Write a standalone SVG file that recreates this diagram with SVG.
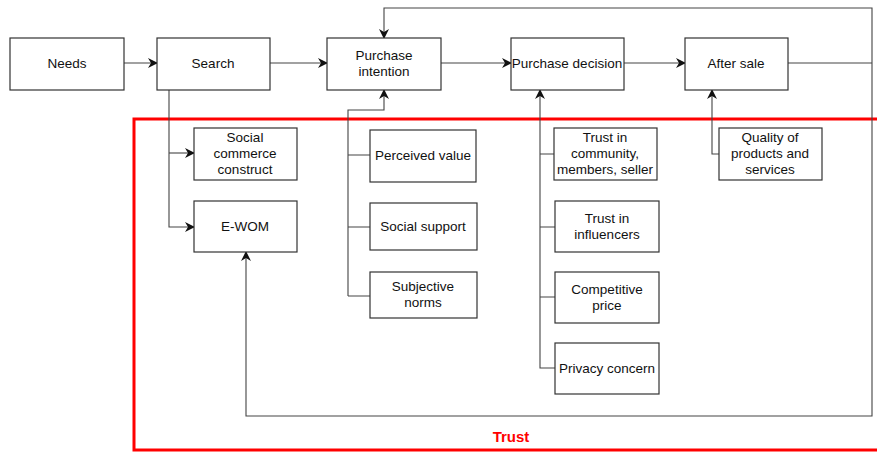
<svg xmlns="http://www.w3.org/2000/svg" width="877" height="453" viewBox="0 0 877 453">
<style>
.n rect{fill:#fff;stroke:#333;stroke-width:1.2}
.n text{font-family:"Liberation Sans",Arial,sans-serif;font-size:13.5px;fill:#111;text-anchor:middle}
.c path{fill:none;stroke:#444;stroke-width:1.1}
.a{marker-end:url(#ah)}
</style>
<defs>
<marker id="ah" viewBox="0 0 10 10" refX="9" refY="5" markerWidth="10" markerHeight="10" markerUnits="userSpaceOnUse" orient="auto">
<path d="M0,0 L10,5 L0,10 L3,5 Z" fill="#111"/>
</marker>
</defs>
<rect x="134" y="119" width="750" height="331" fill="none" stroke="#f00" stroke-width="3"/>
<text x="511" y="442" font-family="Liberation Sans,Arial,sans-serif" font-size="15" font-weight="bold" fill="#f00" text-anchor="middle">Trust</text>
<g class="c">
<path class="a" d="M124,63 H157"/>
<path class="a" d="M270,63 H327"/>
<path class="a" d="M441,63 H511"/>
<path class="a" d="M624,63 H685"/>
<path d="M788,63 H872"/>
<path class="a" d="M872,63 V8 H384 V38"/>
<path class="a" d="M872,63 V416 H246 V252"/>
<path class="a" d="M169,90 V227 H194"/>
<path class="a" d="M169,153 H194"/>
<path class="a" d="M348,296 V110 H384 V90"/>
<path d="M348,155 H370 M348,227 H370 M348,296 H370"/>
<path class="a" d="M555,368 H540 V90"/>
<path d="M540,154 H554 M540,227 H555 M540,297 H555"/>
<path class="a" d="M719,154 H712 V90"/>
</g>
<g id="needs" class="n"><rect x="10" y="38" width="114" height="52"/><text x="67" y="68">Needs</text></g>
<g id="search" class="n"><rect x="157" y="38" width="113" height="52"/><text x="213" y="68">Search</text></g>
<g id="purchase-intention" class="n"><rect x="327" y="38" width="114" height="52"/><text x="384" y="60">Purchase</text><text x="384" y="76">intention</text></g>
<g id="purchase-decision" class="n"><rect x="511" y="38" width="113" height="52"/><text x="567" y="68">Purchase decision</text></g>
<g id="after-sale" class="n"><rect x="685" y="38" width="103" height="52"/><text x="736" y="68">After sale</text></g>
<g id="social-commerce" class="n"><rect x="194" y="128" width="103" height="52"/><text x="245" y="142">Social</text><text x="245" y="158">commerce</text><text x="245" y="174">construct</text></g>
<g id="ewom" class="n"><rect x="194" y="201" width="103" height="51"/><text x="245" y="231">E-WOM</text></g>
<g id="perceived-value" class="n"><rect x="370" y="130" width="106" height="52"/><text x="423" y="160">Perceived value</text></g>
<g id="social-support" class="n"><rect x="370" y="203" width="107" height="47"/><text x="423" y="231">Social support</text></g>
<g id="subjective-norms" class="n"><rect x="370" y="272" width="107" height="46"/><text x="423" y="291">Subjective</text><text x="423" y="307">norms</text></g>
<g id="trust-community" class="n"><rect x="554" y="128" width="103" height="52"/><text x="605" y="142">Trust in</text><text x="605" y="158">community,</text><text x="605" y="174">members, seller</text></g>
<g id="trust-influencers" class="n"><rect x="555" y="201" width="104" height="51"/><text x="607" y="223">Trust in</text><text x="607" y="239">influencers</text></g>
<g id="competitive-price" class="n"><rect x="555" y="272" width="104" height="51"/><text x="607" y="294">Competitive</text><text x="607" y="310">price</text></g>
<g id="privacy-concern" class="n"><rect x="555" y="343" width="104" height="51"/><text x="607" y="373">Privacy concern</text></g>
<g id="quality" class="n"><rect x="719" y="128" width="103" height="52"/><text x="770" y="142">Quality of</text><text x="770" y="158">products and</text><text x="770" y="174">services</text></g>
</svg>
